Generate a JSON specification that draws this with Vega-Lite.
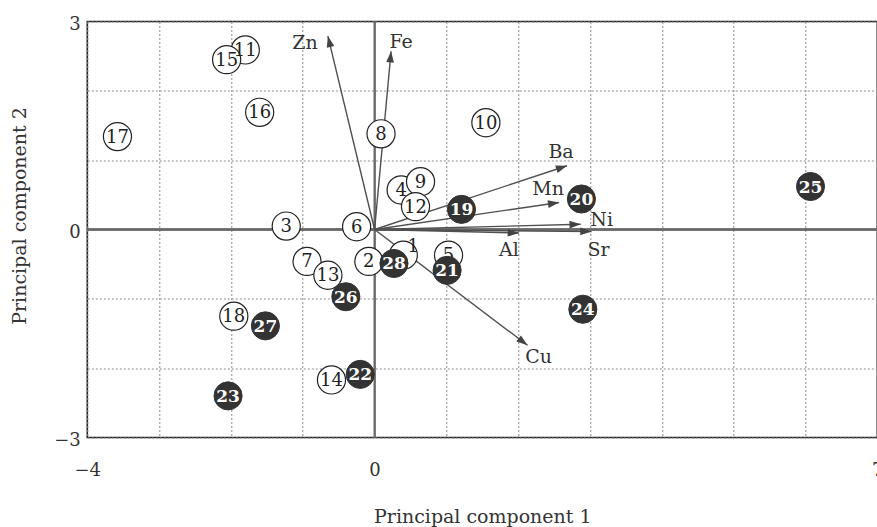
{
  "$schema": "https://vega.github.io/schema/vega-lite/v6.json",
  "autosize": {"type": "none"},
  "padding": {"left": 87.3, "top": 21.5, "right": 0, "bottom": 90},
  "width": 790,
  "height": 416,
  "background": "white",
  "datasets": {
    "samples": [
      {"id": "1", "pc1": 0.40, "pc2": -0.37, "group": "open"},
      {"id": "2", "pc1": -0.08, "pc2": -0.46, "group": "open"},
      {"id": "3", "pc1": -1.23, "pc2": 0.05, "group": "open"},
      {"id": "4", "pc1": 0.37, "pc2": 0.57, "group": "open"},
      {"id": "5", "pc1": 1.03, "pc2": -0.37, "group": "open"},
      {"id": "6", "pc1": -0.25, "pc2": 0.04, "group": "open"},
      {"id": "7", "pc1": -0.94, "pc2": -0.46, "group": "open"},
      {"id": "8", "pc1": 0.09, "pc2": 1.38, "group": "open"},
      {"id": "9", "pc1": 0.64, "pc2": 0.69, "group": "open"},
      {"id": "10", "pc1": 1.55, "pc2": 1.54, "group": "open"},
      {"id": "11", "pc1": -1.80, "pc2": 2.59, "group": "open"},
      {"id": "12", "pc1": 0.57, "pc2": 0.33, "group": "open"},
      {"id": "13", "pc1": -0.65, "pc2": -0.66, "group": "open"},
      {"id": "14", "pc1": -0.60, "pc2": -2.17, "group": "open"},
      {"id": "15", "pc1": -2.06, "pc2": 2.45, "group": "open"},
      {"id": "16", "pc1": -1.60, "pc2": 1.69, "group": "open"},
      {"id": "17", "pc1": -3.58, "pc2": 1.34, "group": "open"},
      {"id": "18", "pc1": -1.96, "pc2": -1.25, "group": "open"},
      {"id": "19", "pc1": 1.21, "pc2": 0.29, "group": "filled"},
      {"id": "20", "pc1": 2.88, "pc2": 0.44, "group": "filled"},
      {"id": "21", "pc1": 1.01, "pc2": -0.59, "group": "filled"},
      {"id": "22", "pc1": -0.20, "pc2": -2.09, "group": "filled"},
      {"id": "23", "pc1": -2.04, "pc2": -2.40, "group": "filled"},
      {"id": "24", "pc1": 2.90, "pc2": -1.15, "group": "filled"},
      {"id": "25", "pc1": 6.07, "pc2": 0.62, "group": "filled"},
      {"id": "26", "pc1": -0.40, "pc2": -0.97, "group": "filled"},
      {"id": "27", "pc1": -1.52, "pc2": -1.39, "group": "filled"},
      {"id": "28", "pc1": 0.27, "pc2": -0.49, "group": "filled"}
    ],
    "loadings": [
      {"element": "Zn", "pc1": -0.65, "pc2": 2.79},
      {"element": "Fe", "pc1": 0.23, "pc2": 2.57},
      {"element": "Ba", "pc1": 2.68, "pc2": 0.92},
      {"element": "Mn", "pc1": 2.57, "pc2": 0.39},
      {"element": "Ni", "pc1": 2.87, "pc2": 0.075},
      {"element": "Sr", "pc1": 3.02, "pc2": -0.03},
      {"element": "Al", "pc1": 2.01, "pc2": -0.05},
      {"element": "Cu", "pc1": 2.13, "pc2": -1.67}
    ]
  },
  "config": {
    "view": {"stroke": "#222", "strokeWidth": 1.6},
    "axis": {
      "domain": false,
      "ticks": false,
      "grid": true,
      "gridColor": "#8c8c8c",
      "gridDash": [2, 2],
      "gridWidth": 1,
      "labelFont": "DejaVu Serif",
      "labelFontSize": 18,
      "labelColor": "#333",
      "labelOverlap": false,
      "labelFlush": false,
      "titleFont": "DejaVu Serif",
      "titleFontSize": 19,
      "titleFontWeight": "normal",
      "titleColor": "#333"
    },
    "axisX": {
      "tickCount": 11,
      "labelPadding": 24,
      "labelExpr": "datum.value == -4 || datum.value == 0 || datum.value == 7 ? datum.label : ''",
      "titleY": 79,
      "titleBaseline": "middle"
    },
    "axisY": {
      "tickCount": 6,
      "labelPadding": 7,
      "labelOffset": 3,
      "labelExpr": "datum.value == -3 || datum.value == 0 || datum.value == 3 ? datum.label : ''",
      "titleX": -68,
      "titleY": 194,
      "titleBaseline": "middle"
    }
  },
  "layer": [
    {
      "data": {"name": "loadings"},
      "mark": {"type": "rule", "color": "#6a6a6a", "strokeWidth": 1.3},
      "encoding": {
        "x": {"datum": 0, "type": "quantitative", "title": "Principal component 1", "scale": {"domain": [-4, 7], "nice": false, "zero": false}}
      }
    },
    {
      "data": {"name": "loadings"},
      "mark": {"type": "rule", "color": "#6a6a6a", "strokeWidth": 1.3},
      "encoding": {
        "y": {"datum": 0, "type": "quantitative", "title": "Principal component 2", "scale": {"domain": [-3, 3], "nice": false, "zero": false}}
      }
    },
    {
      "data": {"name": "loadings"},
      "mark": {"type": "rule", "color": "#505050", "strokeWidth": 1.4},
      "encoding": {
        "x": {"field": "pc1", "type": "quantitative", "title": "Principal component 1", "scale": {"domain": [-4, 7], "nice": false, "zero": false}},
        "y": {"field": "pc2", "type": "quantitative", "title": "Principal component 2", "scale": {"domain": [-3, 3], "nice": false, "zero": false}},
        "x2": {"datum": 0},
        "y2": {"datum": 0}
      }
    },
    {
      "data": {"name": "loadings"},
      "transform": [{"calculate": "atan2(datum.pc1 * 71.82, datum.pc2 * 69.33) * 180 / PI", "as": "angle"}],
      "mark": {"type": "point", "shape": "M0,0L-0.55,1.6L0.55,1.6Z", "filled": true, "fill": "#444", "opacity": 1, "size": 196, "strokeWidth": 0},
      "encoding": {
        "x": {"field": "pc1", "type": "quantitative", "title": "Principal component 1"},
        "y": {"field": "pc2", "type": "quantitative", "title": "Principal component 2"},
        "angle": {"field": "angle", "type": "quantitative", "scale": null}
      }
    },
    {
      "data": {"name": "loadings"},
      "transform": [{"filter": "datum.element == 'Zn'"}],
      "mark": {"type": "text", "font": "DejaVu Serif", "fontSize": 19, "color": "#333", "dx": -23, "dy": 7, "baseline": "middle"},
      "encoding": {
        "x": {"field": "pc1", "type": "quantitative", "title": "Principal component 1"},
        "y": {"field": "pc2", "type": "quantitative", "title": "Principal component 2"},
        "text": {"field": "element"}
      }
    },
    {
      "data": {"name": "loadings"},
      "transform": [{"filter": "datum.element == 'Fe'"}],
      "mark": {"type": "text", "font": "DejaVu Serif", "fontSize": 19, "color": "#333", "dx": 10, "dy": -9, "baseline": "middle"},
      "encoding": {
        "x": {"field": "pc1", "type": "quantitative", "title": "Principal component 1"},
        "y": {"field": "pc2", "type": "quantitative", "title": "Principal component 2"},
        "text": {"field": "element"}
      }
    },
    {
      "data": {"name": "loadings"},
      "transform": [{"filter": "datum.element == 'Ba'"}],
      "mark": {"type": "text", "font": "DejaVu Serif", "fontSize": 19, "color": "#333", "dx": -6, "dy": -14, "baseline": "middle"},
      "encoding": {
        "x": {"field": "pc1", "type": "quantitative", "title": "Principal component 1"},
        "y": {"field": "pc2", "type": "quantitative", "title": "Principal component 2"},
        "text": {"field": "element"}
      }
    },
    {
      "data": {"name": "loadings"},
      "transform": [{"filter": "datum.element == 'Mn'"}],
      "mark": {"type": "text", "font": "DejaVu Serif", "fontSize": 19, "color": "#333", "dx": -11, "dy": -13, "baseline": "middle"},
      "encoding": {
        "x": {"field": "pc1", "type": "quantitative", "title": "Principal component 1"},
        "y": {"field": "pc2", "type": "quantitative", "title": "Principal component 2"},
        "text": {"field": "element"}
      }
    },
    {
      "data": {"name": "loadings"},
      "transform": [{"filter": "datum.element == 'Ni'"}],
      "mark": {"type": "text", "font": "DejaVu Serif", "fontSize": 19, "color": "#333", "dx": 21, "dy": -4, "baseline": "middle"},
      "encoding": {
        "x": {"field": "pc1", "type": "quantitative", "title": "Principal component 1"},
        "y": {"field": "pc2", "type": "quantitative", "title": "Principal component 2"},
        "text": {"field": "element"}
      }
    },
    {
      "data": {"name": "loadings"},
      "transform": [{"filter": "datum.element == 'Sr'"}],
      "mark": {"type": "text", "font": "DejaVu Serif", "fontSize": 19, "color": "#333", "dx": 7, "dy": 18, "baseline": "middle"},
      "encoding": {
        "x": {"field": "pc1", "type": "quantitative", "title": "Principal component 1"},
        "y": {"field": "pc2", "type": "quantitative", "title": "Principal component 2"},
        "text": {"field": "element"}
      }
    },
    {
      "data": {"name": "loadings"},
      "transform": [{"filter": "datum.element == 'Al'"}],
      "mark": {"type": "text", "font": "DejaVu Serif", "fontSize": 19, "color": "#333", "dx": -10, "dy": 17, "baseline": "middle"},
      "encoding": {
        "x": {"field": "pc1", "type": "quantitative", "title": "Principal component 1"},
        "y": {"field": "pc2", "type": "quantitative", "title": "Principal component 2"},
        "text": {"field": "element"}
      }
    },
    {
      "data": {"name": "loadings"},
      "transform": [{"filter": "datum.element == 'Cu'"}],
      "mark": {"type": "text", "font": "DejaVu Serif", "fontSize": 19, "color": "#333", "dx": 11, "dy": 12, "baseline": "middle"},
      "encoding": {
        "x": {"field": "pc1", "type": "quantitative", "title": "Principal component 1"},
        "y": {"field": "pc2", "type": "quantitative", "title": "Principal component 2"},
        "text": {"field": "element"}
      }
    },
    {
      "data": {"name": "samples"},
      "transform": [{"filter": "datum.group == 'open'"}],
      "mark": {"type": "point", "shape": "circle", "filled": false, "fill": "white", "fillOpacity": 1, "stroke": "#222", "strokeWidth": 1.2, "opacity": 1, "size": 790},
      "encoding": {
        "x": {"field": "pc1", "type": "quantitative", "title": "Principal component 1"},
        "y": {"field": "pc2", "type": "quantitative", "title": "Principal component 2"}
      }
    },
    {
      "data": {"name": "samples"},
      "transform": [{"filter": "datum.group == 'open' && datum.id != '1'"}],
      "mark": {"type": "text", "font": "DejaVu Serif", "fontSize": 18, "color": "#222", "baseline": "middle", "dy": 1},
      "encoding": {
        "x": {"field": "pc1", "type": "quantitative", "title": "Principal component 1"},
        "y": {"field": "pc2", "type": "quantitative", "title": "Principal component 2"},
        "text": {"field": "id"}
      }
    },
    {
      "data": {"name": "samples"},
      "transform": [{"filter": "datum.group == 'filled'"}],
      "mark": {"type": "point", "shape": "circle", "filled": true, "fill": "#333", "stroke": "#333", "strokeWidth": 1, "opacity": 1, "size": 790},
      "encoding": {
        "x": {"field": "pc1", "type": "quantitative", "title": "Principal component 1"},
        "y": {"field": "pc2", "type": "quantitative", "title": "Principal component 2"}
      }
    },
    {
      "data": {"name": "samples"},
      "transform": [{"filter": "datum.group == 'filled'"}],
      "mark": {"type": "text", "font": "DejaVu Serif", "fontSize": 17, "fontWeight": "bold", "color": "white", "baseline": "middle", "dy": 1},
      "encoding": {
        "x": {"field": "pc1", "type": "quantitative", "title": "Principal component 1"},
        "y": {"field": "pc2", "type": "quantitative", "title": "Principal component 2"},
        "text": {"field": "id"}
      }
    },
    {
      "data": {"name": "samples"},
      "transform": [{"filter": "datum.id == '1'"}],
      "mark": {"type": "text", "font": "DejaVu Serif", "fontSize": 18, "color": "#222", "baseline": "middle", "dx": 10, "dy": -8},
      "encoding": {
        "x": {"field": "pc1", "type": "quantitative", "title": "Principal component 1"},
        "y": {"field": "pc2", "type": "quantitative", "title": "Principal component 2"},
        "text": {"field": "id"}
      }
    }
  ]
}
